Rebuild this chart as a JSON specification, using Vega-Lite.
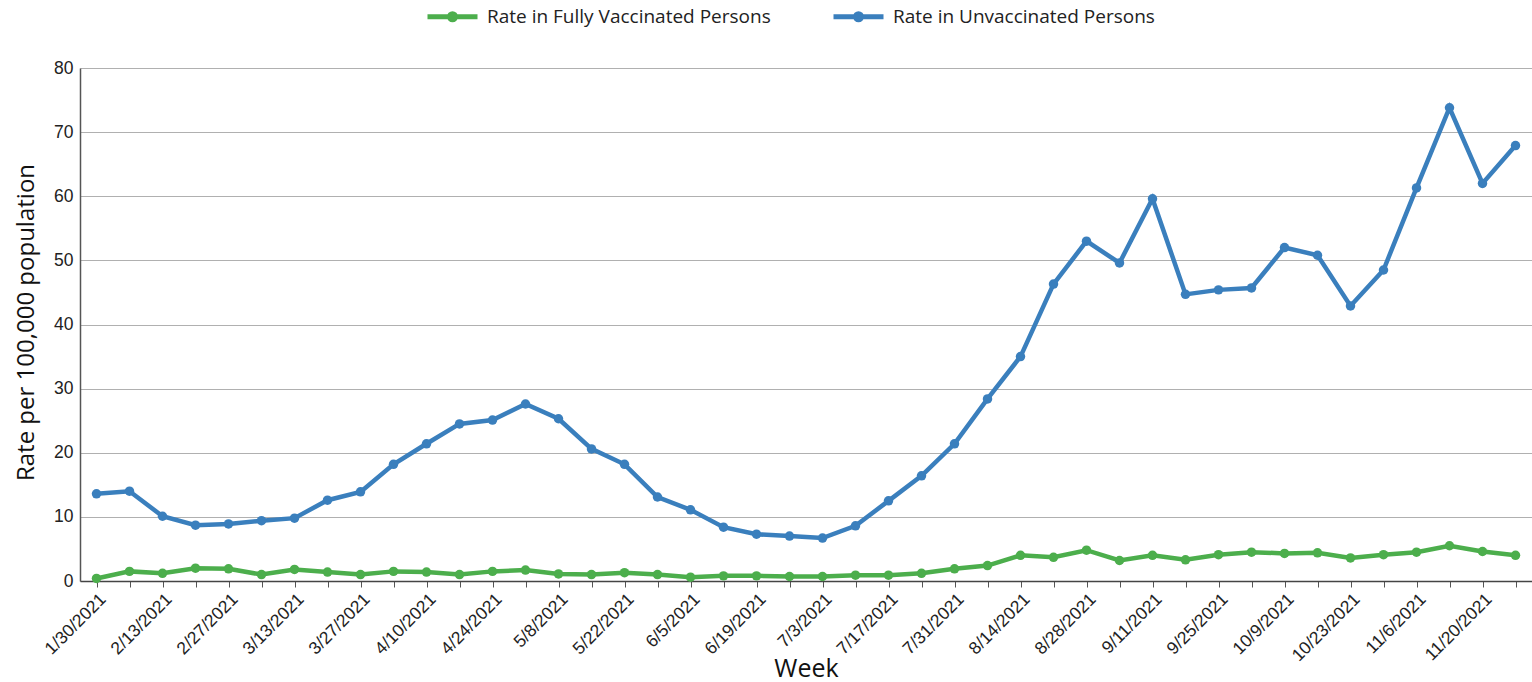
{
  "$schema": "https://vega.github.io/schema/vega-lite/v6.json",
  "width": 1452,
  "height": 513,
  "autosize": {"type": "none"},
  "padding": {"left": 80, "top": 68, "right": 0, "bottom": 101},
  "background": "white",
  "config": {"view": {"stroke": null}, "font": "Open Sans"},
  "data": {"values": [
    {"week": "1/30/2021", "series": "Rate in Fully Vaccinated Persons", "rate": 0.4},
    {"week": "2/6/2021", "series": "Rate in Fully Vaccinated Persons", "rate": 1.5},
    {"week": "2/13/2021", "series": "Rate in Fully Vaccinated Persons", "rate": 1.2},
    {"week": "2/20/2021", "series": "Rate in Fully Vaccinated Persons", "rate": 2.0},
    {"week": "2/27/2021", "series": "Rate in Fully Vaccinated Persons", "rate": 1.9},
    {"week": "3/6/2021", "series": "Rate in Fully Vaccinated Persons", "rate": 1.0},
    {"week": "3/13/2021", "series": "Rate in Fully Vaccinated Persons", "rate": 1.8},
    {"week": "3/20/2021", "series": "Rate in Fully Vaccinated Persons", "rate": 1.4},
    {"week": "3/27/2021", "series": "Rate in Fully Vaccinated Persons", "rate": 1.0},
    {"week": "4/3/2021", "series": "Rate in Fully Vaccinated Persons", "rate": 1.5},
    {"week": "4/10/2021", "series": "Rate in Fully Vaccinated Persons", "rate": 1.4},
    {"week": "4/17/2021", "series": "Rate in Fully Vaccinated Persons", "rate": 1.0},
    {"week": "4/24/2021", "series": "Rate in Fully Vaccinated Persons", "rate": 1.5},
    {"week": "5/1/2021", "series": "Rate in Fully Vaccinated Persons", "rate": 1.7},
    {"week": "5/8/2021", "series": "Rate in Fully Vaccinated Persons", "rate": 1.1},
    {"week": "5/15/2021", "series": "Rate in Fully Vaccinated Persons", "rate": 1.0},
    {"week": "5/22/2021", "series": "Rate in Fully Vaccinated Persons", "rate": 1.3},
    {"week": "5/29/2021", "series": "Rate in Fully Vaccinated Persons", "rate": 1.0},
    {"week": "6/5/2021", "series": "Rate in Fully Vaccinated Persons", "rate": 0.6},
    {"week": "6/12/2021", "series": "Rate in Fully Vaccinated Persons", "rate": 0.8},
    {"week": "6/19/2021", "series": "Rate in Fully Vaccinated Persons", "rate": 0.8},
    {"week": "6/26/2021", "series": "Rate in Fully Vaccinated Persons", "rate": 0.7},
    {"week": "7/3/2021", "series": "Rate in Fully Vaccinated Persons", "rate": 0.7},
    {"week": "7/10/2021", "series": "Rate in Fully Vaccinated Persons", "rate": 0.9},
    {"week": "7/17/2021", "series": "Rate in Fully Vaccinated Persons", "rate": 0.9},
    {"week": "7/24/2021", "series": "Rate in Fully Vaccinated Persons", "rate": 1.2},
    {"week": "7/31/2021", "series": "Rate in Fully Vaccinated Persons", "rate": 1.9},
    {"week": "8/7/2021", "series": "Rate in Fully Vaccinated Persons", "rate": 2.4},
    {"week": "8/14/2021", "series": "Rate in Fully Vaccinated Persons", "rate": 4.0},
    {"week": "8/21/2021", "series": "Rate in Fully Vaccinated Persons", "rate": 3.7},
    {"week": "8/28/2021", "series": "Rate in Fully Vaccinated Persons", "rate": 4.8},
    {"week": "9/4/2021", "series": "Rate in Fully Vaccinated Persons", "rate": 3.2},
    {"week": "9/11/2021", "series": "Rate in Fully Vaccinated Persons", "rate": 4.0},
    {"week": "9/18/2021", "series": "Rate in Fully Vaccinated Persons", "rate": 3.3},
    {"week": "9/25/2021", "series": "Rate in Fully Vaccinated Persons", "rate": 4.1},
    {"week": "10/2/2021", "series": "Rate in Fully Vaccinated Persons", "rate": 4.5},
    {"week": "10/9/2021", "series": "Rate in Fully Vaccinated Persons", "rate": 4.3},
    {"week": "10/16/2021", "series": "Rate in Fully Vaccinated Persons", "rate": 4.4},
    {"week": "10/23/2021", "series": "Rate in Fully Vaccinated Persons", "rate": 3.6},
    {"week": "10/30/2021", "series": "Rate in Fully Vaccinated Persons", "rate": 4.1},
    {"week": "11/6/2021", "series": "Rate in Fully Vaccinated Persons", "rate": 4.5},
    {"week": "11/13/2021", "series": "Rate in Fully Vaccinated Persons", "rate": 5.5},
    {"week": "11/20/2021", "series": "Rate in Fully Vaccinated Persons", "rate": 4.6},
    {"week": "11/27/2021", "series": "Rate in Fully Vaccinated Persons", "rate": 4.0},
    {"week": "1/30/2021", "series": "Rate in Unvaccinated Persons", "rate": 13.6},
    {"week": "2/6/2021", "series": "Rate in Unvaccinated Persons", "rate": 14.0},
    {"week": "2/13/2021", "series": "Rate in Unvaccinated Persons", "rate": 10.1},
    {"week": "2/20/2021", "series": "Rate in Unvaccinated Persons", "rate": 8.7},
    {"week": "2/27/2021", "series": "Rate in Unvaccinated Persons", "rate": 8.9},
    {"week": "3/6/2021", "series": "Rate in Unvaccinated Persons", "rate": 9.4},
    {"week": "3/13/2021", "series": "Rate in Unvaccinated Persons", "rate": 9.8},
    {"week": "3/20/2021", "series": "Rate in Unvaccinated Persons", "rate": 12.6},
    {"week": "3/27/2021", "series": "Rate in Unvaccinated Persons", "rate": 13.9},
    {"week": "4/3/2021", "series": "Rate in Unvaccinated Persons", "rate": 18.2},
    {"week": "4/10/2021", "series": "Rate in Unvaccinated Persons", "rate": 21.4},
    {"week": "4/17/2021", "series": "Rate in Unvaccinated Persons", "rate": 24.5},
    {"week": "4/24/2021", "series": "Rate in Unvaccinated Persons", "rate": 25.1},
    {"week": "5/1/2021", "series": "Rate in Unvaccinated Persons", "rate": 27.6},
    {"week": "5/8/2021", "series": "Rate in Unvaccinated Persons", "rate": 25.3},
    {"week": "5/15/2021", "series": "Rate in Unvaccinated Persons", "rate": 20.6},
    {"week": "5/22/2021", "series": "Rate in Unvaccinated Persons", "rate": 18.2},
    {"week": "5/29/2021", "series": "Rate in Unvaccinated Persons", "rate": 13.1},
    {"week": "6/5/2021", "series": "Rate in Unvaccinated Persons", "rate": 11.1},
    {"week": "6/12/2021", "series": "Rate in Unvaccinated Persons", "rate": 8.4},
    {"week": "6/19/2021", "series": "Rate in Unvaccinated Persons", "rate": 7.3},
    {"week": "6/26/2021", "series": "Rate in Unvaccinated Persons", "rate": 7.0},
    {"week": "7/3/2021", "series": "Rate in Unvaccinated Persons", "rate": 6.7},
    {"week": "7/10/2021", "series": "Rate in Unvaccinated Persons", "rate": 8.6},
    {"week": "7/17/2021", "series": "Rate in Unvaccinated Persons", "rate": 12.5},
    {"week": "7/24/2021", "series": "Rate in Unvaccinated Persons", "rate": 16.4},
    {"week": "7/31/2021", "series": "Rate in Unvaccinated Persons", "rate": 21.4},
    {"week": "8/7/2021", "series": "Rate in Unvaccinated Persons", "rate": 28.4},
    {"week": "8/14/2021", "series": "Rate in Unvaccinated Persons", "rate": 35.0},
    {"week": "8/21/2021", "series": "Rate in Unvaccinated Persons", "rate": 46.3},
    {"week": "8/28/2021", "series": "Rate in Unvaccinated Persons", "rate": 53.0},
    {"week": "9/4/2021", "series": "Rate in Unvaccinated Persons", "rate": 49.6},
    {"week": "9/11/2021", "series": "Rate in Unvaccinated Persons", "rate": 59.6},
    {"week": "9/18/2021", "series": "Rate in Unvaccinated Persons", "rate": 44.7},
    {"week": "9/25/2021", "series": "Rate in Unvaccinated Persons", "rate": 45.4},
    {"week": "10/2/2021", "series": "Rate in Unvaccinated Persons", "rate": 45.7},
    {"week": "10/9/2021", "series": "Rate in Unvaccinated Persons", "rate": 52.0},
    {"week": "10/16/2021", "series": "Rate in Unvaccinated Persons", "rate": 50.8},
    {"week": "10/23/2021", "series": "Rate in Unvaccinated Persons", "rate": 42.9},
    {"week": "10/30/2021", "series": "Rate in Unvaccinated Persons", "rate": 48.5},
    {"week": "11/6/2021", "series": "Rate in Unvaccinated Persons", "rate": 61.3},
    {"week": "11/13/2021", "series": "Rate in Unvaccinated Persons", "rate": 73.8},
    {"week": "11/20/2021", "series": "Rate in Unvaccinated Persons", "rate": 62.0},
    {"week": "11/27/2021", "series": "Rate in Unvaccinated Persons", "rate": 67.9}
  ]},
  "encoding": {
    "x": {
      "field": "week", "type": "ordinal", "sort": null, "title": "Week",
      "scale": {"type": "point", "padding": 0.5},
      "axis": {
        "labelAngle": -45, "labelFont": "Liberation Sans", "labelFontSize": 17.5, "labelColor": "#222222",
        "labelOverlap": false, "labelPadding": 3,
        "labelExpr": "indexof(['1/30/2021','2/13/2021','2/27/2021','3/13/2021','3/27/2021','4/10/2021','4/24/2021','5/8/2021','5/22/2021','6/5/2021','6/19/2021','7/3/2021','7/17/2021','7/31/2021','8/14/2021','8/28/2021','9/11/2021','9/25/2021','10/9/2021','10/23/2021','11/6/2021','11/20/2021'], datum.value) >= 0 ? datum.value : ''",
        "tickColor": "#555555", "tickSize": 6, "domainColor": "#444444", "domainWidth": 1.5,
        "grid": false,
        "titleFont": "Open Sans", "titleFontSize": 25, "titleFontWeight": "normal", "titleColor": "#111111",
        "titleY": 87, "titleBaseline": "middle"
      }
    },
    "y": {
      "field": "rate", "type": "quantitative", "title": "Rate per 100,000 population",
      "scale": {"domain": [0, 80], "nice": false},
      "axis": {
        "values": [0, 10, 20, 30, 40, 50, 60, 70, 80],
        "labelFont": "Liberation Sans", "labelFontSize": 17.5, "labelColor": "#222222", "labelPadding": 7,
        "ticks": false, "domainColor": "#555555", "domainWidth": 1.5,
        "grid": true, "gridColor": "#b0b0b0", "gridWidth": 1.2,
        "titleFont": "Open Sans", "titleFontSize": 24, "titleFontWeight": "normal", "titleColor": "#111111",
        "titleX": -54, "titleY": 254, "titleBaseline": "middle", "titleAlign": "center", "titleAngle": 270
      }
    },
    "color": {
      "field": "series", "type": "nominal",
      "scale": {"domain": ["Rate in Fully Vaccinated Persons", "Rate in Unvaccinated Persons"], "range": ["#4cae4c", "#3a7fbd"]},
      "legend": {
        "title": null, "orient": "none", "direction": "horizontal", "legendX": 345, "legendY": -79, "padding": 0,
        "symbolType": "M-1,0H1M-0.12,0a0.12,0.12 0 1,0 0.24,0a0.12,0.12 0 1,0 -0.24,0",
        "symbolSize": 2500, "symbolStrokeWidth": 5, "labelOffset": 7, "columnPadding": 52,
        "labelFont": "Open Sans", "labelFontSize": 19, "labelColor": "#222222", "labelLimit": 500,
        "encode": {"symbols": {"update": {"fill": {"scale": "color", "field": "value"}, "fillOpacity": {"value": 1}, "strokeOpacity": {"value": 1}}}}
      }
    }
  },
  "layer": [
    {"mark": {"type": "line", "strokeWidth": 4.5}},
    {"mark": {"type": "point", "filled": true, "size": 90, "opacity": 1}}
  ]
}
